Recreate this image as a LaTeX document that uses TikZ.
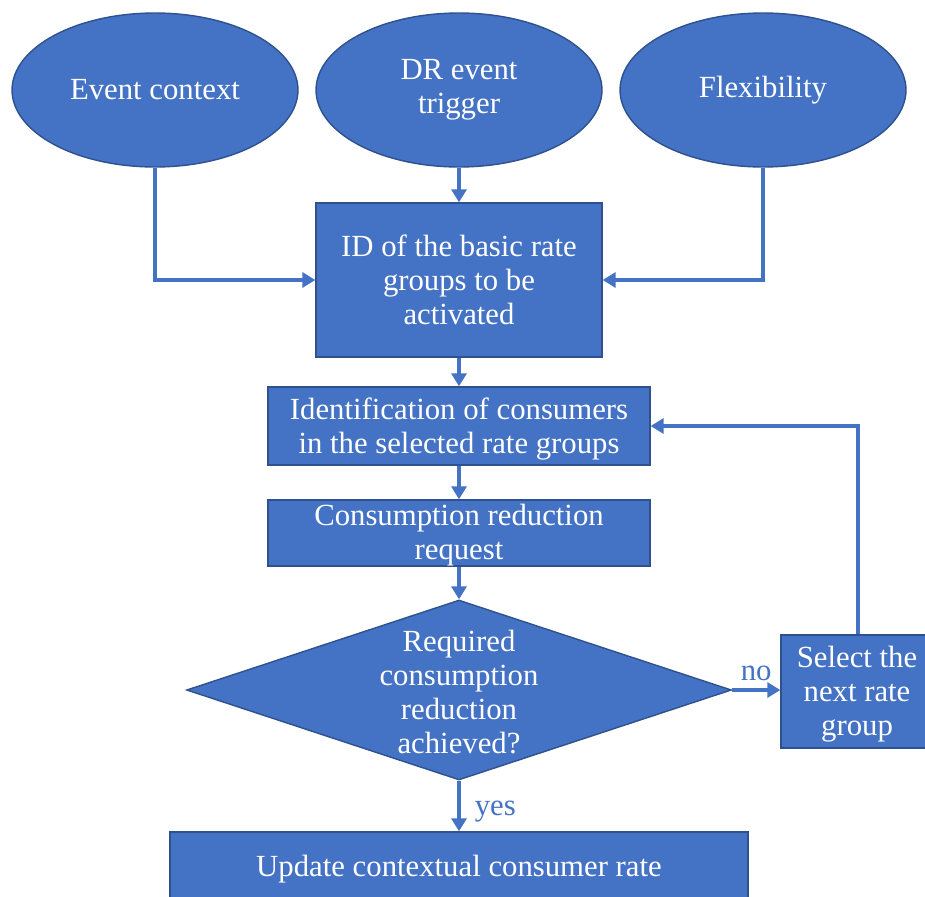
\documentclass[tikz,border=0pt]{standalone}
\usepackage{fontspec}
\setmainfont{Liberation Serif}
\usepackage{tikz}
\usetikzlibrary{shapes.geometric,arrows.meta}
\definecolor{boxblue}{RGB}{68,114,196}
\definecolor{edgeblue}{RGB}{47,82,143}

\begin{document}
\begin{tikzpicture}[x=0.02cm,y=-0.02cm,
  every node/.style={text=white,font=\fontsize{17.5}{19.4}\selectfont,align=center,inner sep=0pt},
  oval/.style={ellipse,draw=edgeblue,fill=boxblue,line width=0.8pt,minimum width=5.72cm,minimum height=3.08cm},
  block/.style={rectangle,draw=edgeblue,fill=boxblue,line width=0.8pt},
  flow/.style={draw=boxblue,line width=2pt,-{Triangle[length=0.26cm,width=0.3cm]}},
  lbl/.style={text=boxblue}]
\useasboundingbox (0,0) rectangle (925,896);
\clip (0,0) rectangle (925,896);

\node[oval] (ctx) at (155,90) {Event context};
\node[oval] (trig) at (459,90) {DR event\\trigger};
\node[oval] (flex) at (763,90) {Flexibility};

\node[block,minimum width=5.72cm,minimum height=3.08cm] (id) at (459,280) {ID of the basic rate\\groups to be\\activated};
\node[block,minimum width=7.64cm,minimum height=1.56cm] (ident) at (459,426) {};
\node (identtxt) at (459,429) {Identification of consumers\\in the selected rate groups};
\node[block,minimum width=7.64cm,minimum height=1.32cm] (req) at (459,533) {};
\node (reqtxt) at (459,535) {Consumption reduction\\request};
\node[diamond,draw=edgeblue,fill=boxblue,line width=0.8pt,minimum width=10.9cm,minimum height=3.6cm] (dec) at (459,690) {};
\node (dectxt) at (459,692) {Required\\consumption\\reduction\\achieved?};
\node[block,minimum width=3.08cm,minimum height=2.26cm] (next) at (858,691.5) {};
\node (nexttxt) at (857,694) {Select the\\next rate\\group};
\node[block,minimum width=11.56cm,minimum height=1.36cm] (upd) at (459,866) {};
\node (updtxt) at (459,869) {Update contextual consumer rate};

\draw[flow] (trig) -- (id);
\draw[flow] (ctx.south) |- (id.west);
\draw[flow] (flex.south) |- (id.east);
\draw[flow] (id) -- (ident);
\draw[flow] (ident) -- (req);
\draw[flow] (req) -- (dec);
\draw[flow] (dec.east) -- node[lbl,above,yshift=4.5pt] {no} (dec.east -| next.west);
\draw[flow] (next.north) |- (ident.east);
\draw[flow] (dec.south) -- node[lbl,right,xshift=8pt,yshift=-3pt] {yes} (upd.north);

\end{tikzpicture}
\end{document}
